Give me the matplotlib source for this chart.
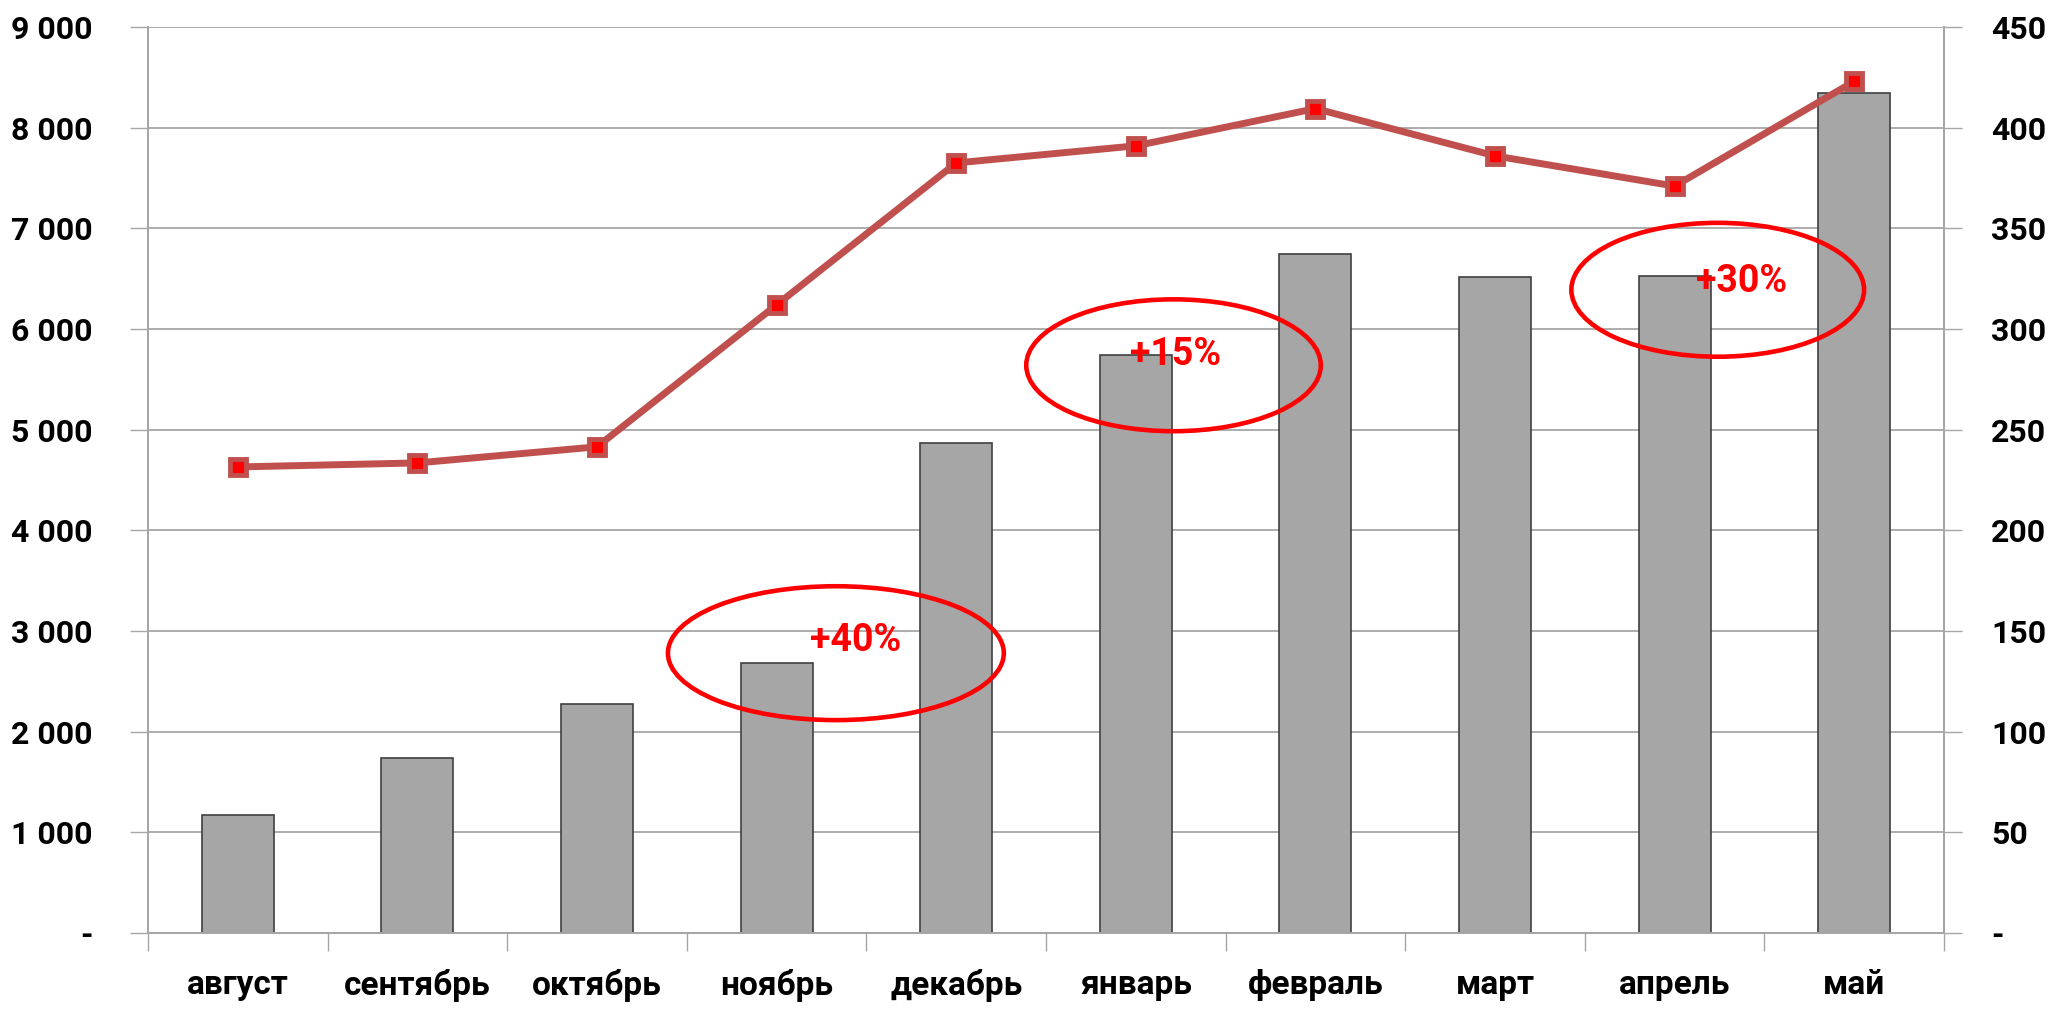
import numpy as np
import matplotlib.pyplot as plt
from matplotlib.patches import Ellipse

# -- data --
months = ['август', 'сентябрь', 'октябрь', 'ноябрь', 'декабрь',
          'январь', 'февраль', 'март', 'апрель', 'май']
bar_values = [1170, 1740, 2280, 2685, 4870, 5745, 6750, 6520, 6530, 8340]
line_values = [231.5, 233.5, 241.5, 312, 382.5, 391, 409.5, 386, 371, 423]

left_ticks = [0, 1000, 2000, 3000, 4000, 5000, 6000, 7000, 8000, 9000]
left_labels = ['-', '1 000', '2 000', '3 000', '4 000', '5 000',
               '6 000', '7 000', '8 000', '9 000']
right_ticks = [0, 50, 100, 150, 200, 250, 300, 350, 400, 450]
right_labels = ['-', '50', '100', '150', '200', '250', '300', '350', '400', '450']

# growth callouts: label, ellipse centre/size (category index, left-axis value)
notes = ['+40%', '+15%', '+30%']
note_x = [3.33, 5.21, 8.24]
note_y = [2780, 5640, 6390]
note_w = [1.87, 1.64, 1.63]
note_h = [1330, 1310, 1330]
note_text_x = [3.44, 5.22, 8.37]
note_text_y = [2910, 5745, 6470]

plt.rcParams['font.family'] = ['Roboto', 'DejaVu Sans']

grid_col = '#A6A6A6'
line_col = '#C0504D'

fig = plt.figure(figsize=(20.5, 10.09), dpi=100)
ax = fig.add_axes([0.0722, 0.0753, 0.8761, 0.8979])
ax2 = ax.twinx()

x = np.arange(len(months))
ax.bar(x, bar_values, width=0.4, color='#A6A6A6', edgecolor='#404040',
       linewidth=1.2, zorder=2)

ax.set_xlim(-0.5, len(months) - 0.5)
ax.set_ylim(0, 9000)
ax2.set_ylim(0, 450)

ax.set_yticks(left_ticks)
ax.set_yticklabels(left_labels, fontsize=23, fontweight='bold')
ax2.set_yticks(right_ticks)
ax2.set_yticklabels(right_labels, fontsize=23, fontweight='bold')

ax.set_xticks(x)
ax.set_xticklabels(months, fontsize=24, fontweight='bold')
ax.set_xticks(np.arange(len(months) + 1) - 0.5, minor=True)
ax.tick_params(axis='x', which='major', length=0, pad=26)
ax.tick_params(axis='x', which='minor', length=13, width=1, color=grid_col)
ax.tick_params(axis='y', length=13, width=1, color=grid_col, pad=27)
ax2.tick_params(axis='y', length=13, width=1, color=grid_col, pad=21)

ax.yaxis.grid(True, color=grid_col, linewidth=1.3, zorder=0)
ax.set_axisbelow(True)

for a in (ax, ax2):
    a.spines['top'].set_visible(False)
    for s in ('left', 'right', 'bottom'):
        a.spines[s].set_color(grid_col)
        a.spines[s].set_linewidth(1.3)

ax2.plot(x, line_values, color=line_col, linewidth=5, marker='s',
         markersize=11, markerfacecolor='#FF0000', markeredgecolor=line_col,
         markeredgewidth=3.5, zorder=3)

for i in range(len(notes)):
    ax.add_patch(Ellipse((note_x[i], note_y[i]), note_w[i], note_h[i],
                         fill=False, edgecolor='#FF0000', linewidth=3.3,
                         zorder=5))
    ax.text(note_text_x[i], note_text_y[i], notes[i], color='#FF0000',
            fontsize=27, fontweight='bold', ha='center', va='center', zorder=6)

fig.savefig('out.png', dpi=100)
